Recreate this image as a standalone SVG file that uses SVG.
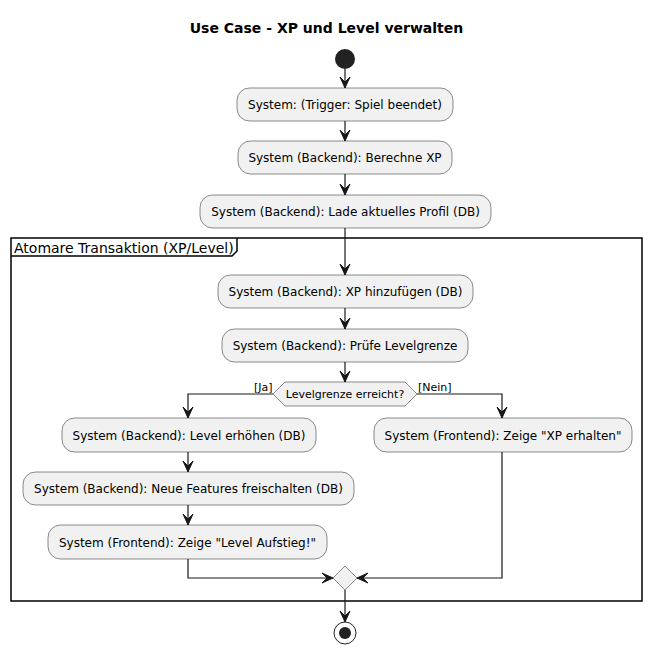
<svg xmlns="http://www.w3.org/2000/svg" width="653" height="653" viewBox="0 0 653 653">
  <style>
    .act { fill: #F1F1F1; stroke: #181818; stroke-width: 0.5; }
    .txt { font-family: "DejaVu Sans", sans-serif; font-size: 12px; fill: #000; text-anchor: middle; }
    .lbl { font-family: "DejaVu Sans", sans-serif; font-size: 11px; fill: #000; }
    .edge { fill: none; stroke: #181818; stroke-width: 1.2; }
    .head { fill: #181818; stroke: #181818; stroke-width: 1; }
  </style>
  <defs>
    <!-- arrowheads with the tip at the origin -->
    <polygon id="ad" class="head" points="-5,-11 0,0 5,-11 0,-6"/>
    <polygon id="ar" class="head" points="-11,-5 0,0 -11,5 -6,0"/>
    <polygon id="al" class="head" points="11,-5 0,0 11,5 6,0"/>
  </defs>
  <rect width="653" height="653" fill="#FFFFFF"/>

  <text x="326.5" y="33" font-family="DejaVu Sans, sans-serif" font-size="14" font-weight="bold" text-anchor="middle">Use Case - XP und Level verwalten</text>

  <!-- transaction frame -->
  <g id="frame">
    <rect x="11" y="238" width="631" height="363" fill="none" stroke="#000" stroke-width="1.5"/>
    <path d="M11,256 L232,256 L237,251 L237,238" fill="none" stroke="#000" stroke-width="1.5"/>
    <text x="14" y="253" font-family="DejaVu Sans, sans-serif" font-size="14">Atomare Transaktion (XP/Level)</text>
  </g>

  <g id="connectors">
    <path class="edge" d="M345,69 V88"/><use href="#ad" x="345" y="88"/>
    <path class="edge" d="M345,121 V141"/><use href="#ad" x="345" y="141"/>
    <path class="edge" d="M345,174 V195"/><use href="#ad" x="345" y="195"/>
    <path class="edge" d="M345,228 V275"/><use href="#ad" x="345" y="275"/>
    <path class="edge" d="M345,308 V329"/><use href="#ad" x="345" y="329"/>
    <path class="edge" d="M345,362 V382"/><use href="#ad" x="345" y="382"/>
    <path class="edge" d="M273,394 H188 V418"/><use href="#ad" x="188" y="418"/>
    <path class="edge" d="M417,394 H502 V418"/><use href="#ad" x="502" y="418"/>
    <path class="edge" d="M188,452 V472"/><use href="#ad" x="188" y="472"/>
    <path class="edge" d="M188,505 V525"/><use href="#ad" x="188" y="525"/>
    <path class="edge" d="M188,559 V578 H333"/><use href="#ar" x="333" y="578"/>
    <path class="edge" d="M502,452 V578 H357"/><use href="#al" x="357" y="578"/>
    <path class="edge" d="M345,590 V622"/><use href="#ad" x="345" y="622"/>
    <text class="lbl" x="254" y="391">[Ja]</text>
    <text class="lbl" x="418" y="391">[Nein]</text>
  </g>

  <g id="start"><circle cx="345" cy="59" r="10" fill="#222222"/></g>

  <g id="trigger">
    <rect class="act" x="237" y="88" width="216" height="33" rx="12.5"/>
    <text class="txt" x="345" y="109">System: (Trigger: Spiel beendet)</text>
  </g>
  <g id="berechne">
    <rect class="act" x="238" y="141" width="214" height="33" rx="12.5"/>
    <text class="txt" x="345" y="162">System (Backend): Berechne XP</text>
  </g>
  <g id="lade">
    <rect class="act" x="200" y="195" width="291" height="33" rx="12.5"/>
    <text class="txt" x="345.5" y="216">System (Backend): Lade aktuelles Profil (DB)</text>
  </g>
  <g id="hinzufuegen">
    <rect class="act" x="218" y="275" width="255" height="33" rx="12.5"/>
    <text class="txt" x="345.5" y="296">System (Backend): XP hinzufügen (DB)</text>
  </g>
  <g id="pruefe">
    <rect class="act" x="222" y="329" width="246" height="33" rx="12.5"/>
    <text class="txt" x="345" y="350">System (Backend): Prüfe Levelgrenze</text>
  </g>
  <g id="decision">
    <polygon class="act" points="273,394 285,382 405,382 417,394 405,406 285,406"/>
    <text class="lbl" x="345" y="398" text-anchor="middle">Levelgrenze erreicht?</text>
  </g>
  <g id="level">
    <rect class="act" x="62" y="418" width="254" height="34" rx="12.5"/>
    <text class="txt" x="189" y="440">System (Backend): Level erhöhen (DB)</text>
  </g>
  <g id="features">
    <rect class="act" x="23" y="472" width="331" height="33" rx="12.5"/>
    <text class="txt" x="188.5" y="493">System (Backend): Neue Features freischalten (DB)</text>
  </g>
  <g id="aufstieg">
    <rect class="act" x="48" y="525" width="279" height="34" rx="12.5"/>
    <text class="txt" x="187.5" y="547">System (Frontend): Zeige "Level Aufstieg!"</text>
  </g>
  <g id="xperhalten">
    <rect class="act" x="374" y="418" width="258" height="34" rx="12.5"/>
    <text class="txt" x="503" y="440">System (Frontend): Zeige "XP erhalten"</text>
  </g>
  <g id="merge">
    <polygon class="act" points="345,566 357,578 345,590 333,578"/>
  </g>
  <g id="end">
    <circle cx="345" cy="633" r="11" fill="none" stroke="#222222" stroke-width="1"/>
    <circle cx="345" cy="633" r="6" fill="#222222"/>
  </g>
</svg>
